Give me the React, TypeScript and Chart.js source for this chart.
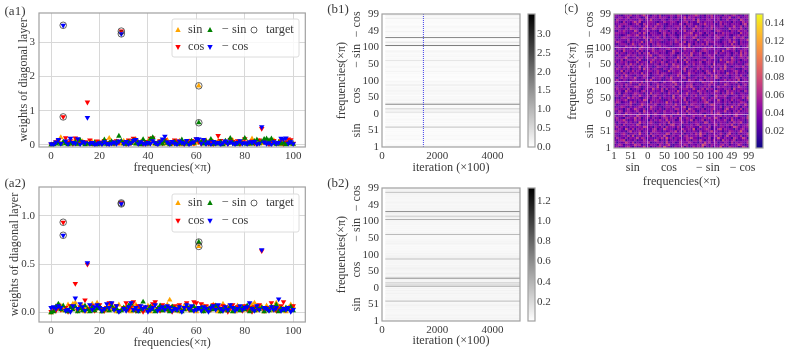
import React, { useEffect, useRef } from "react";
import { Chart, registerables } from "chart.js";

Chart.register(...registerables);

const FONT = "'Liberation Serif', serif";
const TEXT = "#3a3a3a";
const SPINE = "#a0a0a0";
const GRID = "#d8d8d8";

const C_SIN = "#ffa500";
const C_COS = "#ff0000";
const C_NSIN = "#008000";
const C_NCOS = "#0000ff";

// weights at frequency index 0..100
const a1Sin = [
  0, .02, .05, .08, .22, .06, .12, .03, .08, .04,
  .15, .02, .07, .1, .03, .05, .02, .09, .01, .06,
  .04, .03, .08, .05, .2, .02, .06, .1, .04, .03,
  .12, .07, .02, .09, .05, .16, .03, .08, .01, .06,
  .11, .04, .13, .02, .07, .05, .1, .03, .14, .06,
  .02, .08, .04, .12, .01, .07, .03, .1, .05, .02,
  .06, 1.73, .09, .04, .13, .06, .02, .08, .03, .11,
  .05, .01, .07, .04, .09, .14, .02, .06, .03, .1,
  .05, .08, .02, .18, .07, .03, .12, .04, .06, .09,
  .02, .05, .13, .03, .08, .01, .06, .1, .04, .07,
  .02,
];
const a1Cos = [
  .02, .04, .09, .13, .05, .82, .21, .07, .12, .03,
  .2, .16, .06, .1, .09, 1.25, .14, .04, .02, .11,
  .05, .08, .13, .03, .06, .1, .04, .12, .07, 3.33,
  .09, .02, .14, .06, .19, .11, .04, .08, .03, .1,
  .05, .19, .2, .07, .02, .12, .05, .15, .09, .03,
  .06, .14, .11, .04, .08, .02, .1, .06, .13, .05,
  .17, .09, .03, .12, .07, .04, .11, .02, .08, .27,
  .13, .05, .09, .03, .16, .1, .06, .12, .02, .08,
  .18, .04, .07, .11, .05, .03, .14, .48, .1, .06,
  .02, .09, .13, .04, .07, .12, .03, .08, .17, .15,
  .05,
];
const a1NegSin = [
  0, .01, .03, .06, .02, .09, .04, .01, .05, .03,
  .08, .02, .14, .06, .01, .04, .03, .02, .07, .01,
  .05, .03, .15, .02, .06, .1, .03, .08, .26, .12,
  .04, .02, .09, .05, .13, .03, .07, .01, .16, .06,
  .03, .17, .22, .04, .02, .08, .03, .11, .05, .01,
  .06, .09, .02, .04, .15, .03, .07, .02, .12, .05,
  .14, .65, .08, .03, .1, .04, .17, .02, .06, .03,
  .09, .01, .12, .05, .2, .07, .03, .02, .08, .04,
  .2, .02, .06, .03, .11, .15, .04, .09, .17, .18,
  .13, .18, .05, .02, .07, .03, .06, .01, .04, .08,
  .02,
];
const a1NegCos = [
  .03, .01, .08, .16, .04, 3.5, .11, .03, .19, .07,
  .05, .18, .02, .09, .06, .8, .04, .07, .01, .03,
  .06, .02, .09, .04, .01, .05, .08, .03, .11, 3.25,
  .04, .1, .02, .06, .13, .16, .03, .09, .05, .02,
  .07, .04, .12, .06, .01, .09, .17, .25, .08, .03,
  .1, .05, .02, .11, .07, .04, .13, .01, .06, .09,
  .18, .17, .05, .16, .03, .08, .02, .1, .04, .07,
  .01, .06, .11, .03, .09, .05, .02, .07, .12, .04,
  .06, .03, .09, .07, .1, .02, .05, .53, .08, .03,
  .06, .01, .09, .04, .07, .19, .17, .2, .05, .09,
  .03,
];

const a2Sin = [
  0, .02, .06, .04, .07, .02, .03, .08, .05, .09,
  .1, .02, .04, .07, .01, .05, .03, .09, .02, .1,
  .06, .01, .04, .02, .07, .03, .05, .01, .08, .03,
  .04, .06, .02, .01, .05, .08, .03, .06, .02, .04,
  .07, .01, .05, .09, .03, .06, .02, .04, .08, .13,
  .05, .02, .06, .01, .04, .07, .03, .05, .02, .06,
  .01, .685, .04, .07, .02, .05, .03, .08, .06, .01,
  .04, .09, .02, .06, .03, .05, .01, .07, .04, .02,
  .06, .03, .05, .08, .1, .02, .04, .06, .01, .07,
  .03, .05, .02, .1, .06, .03, .04, .01, .05, .08,
  .06,
];
const a2Cos = [
  .01, .04, .02, .06, .03, .935, .05, .01, .07, .04,
  .3, .02, .06, .03, .13, .5, .04, .07, .02, .05,
  .08, .03, .02, .05, .1, .09, .04, .07, .02, 1.135,
  .05, .1, .03, .06, .11, .02, .07, .04, .01, .05,
  .03, .06, .09, .11, .04, .02, .08, .05, .03, .06,
  .01, .07, .04, .08, .02, .05, .1, .03, .06, .11,
  .1, .05, .09, .02, .07, .04, .03, .08, .05, .06,
  .02, .07, .04, .01, .05, .08, .03, .06, .04, .02,
  .07, .03, .05, .01, .06, .04, .08, .64, .02, .05,
  .03, .1, .06, .02, .04, .07, .11, .03, .05, .02,
  .07,
];
const a2NegSin = [
  0, .01, .06, .09, .03, .07, .02, .01, .05, .03,
  .06, .01, .04, .02, .07, .03, .01, .05, .02, .04,
  .06, .01, .03, .05, .02, .07, .03, .04, .01, .02,
  .05, .03, .07, .09, .02, .04, .01, .03, .11, .05,
  .02, .06, .03, .01, .04, .07, .02, .05, .03, .01,
  .06, .04, .02, .05, .01, .03, .07, .04, .02, .06,
  .03, .73, .05, .01, .04, .02, .06, .03, .07, .04,
  .01, .03, .05, .02, .06, .01, .04, .03, .02, .05,
  .03, .07, .01, .04, .02, .06, .03, .05, .01, .04,
  .02, .06, .03, .08, .01, .04, .02, .05, .03, .06,
  .02,
];
const a2NegCos = [
  .05, .06, .04, .07, .05, .8, .02, .03, .01, .07,
  .15, .04, .09, .06, .02, .515, .08, .03, .06, .08,
  .05, .02, .04, .09, .05, .1, .03, .07, .01, 1.125,
  .04, .02, .06, .1, .03, .05, .02, .07, .04, .06,
  .01, .03, .05, .08, .02, .04, .06, .03, .07, .05,
  .02, .04, .03, .06, .01, .05, .08, .04, .07, .02,
  .03, .05, .02, .06, .04, .01, .05, .07, .03, .08,
  .04, .02, .06, .03, .08, .05, .02, .04, .07, .03,
  .05, .06, .1, .04, .02, .07, .03, .65, .05, .04,
  .02, .06, .03, .05, .14, .02, .04, .03, .05, .01,
  .03,
];

const a1TargetFreq = [5, 5, 29, 29, 61, 61];
const a1TargetVal = [.82, 3.5, 3.33, 3.25, 1.73, .65];
const a2TargetFreq = [5, 5, 29, 29, 61, 61];
const a2TargetVal = [.935, .8, 1.135, 1.125, .685, .73];

const aXTicks = [0, 20, 40, 60, 80, 100];
const a1YTicks = [0, 1, 2, 3];
const a2YTicks = [0, 0.5, 1];

// row/column index of tick on the 402 concatenated frequencies
const bandPositions = [0, 50, 100, 150, 200, 250, 300, 350, 400];
const bandLabels = ["1", "51", "0", "50", "100", "50", "100", "49", "99"];
const iterationTicks = [0, 2000, 4000];
const b1BarTicks = [0, 0.5, 1, 1.5, 2, 2.5, 3];
const b2BarTicks = [0.2, 0.4, 0.6, 0.8, 1, 1.2];
const cBarTicks = [0.02, 0.04, 0.06, 0.08, 0.1, 0.12, 0.14];
const b1SnapshotIteration = 1500;

const plasmaStops = ["#0d0887", "#41049d", "#6a00a8", "#8f0da4", "#b12a90", "#cc4778", "#e16462", "#f2844b", "#fca636", "#fcce25", "#f0f921"];

// digit d means a correlation of about d*0.011 + 0.006
const correlationRows = [
  "342324531423362413245274312433514225343613241437232543312642",
  "235413323645132243315324621334254133242753143324524132364213",
  "413236425132343512243416324125333542314263523413243152434325",
  "324561332413253243641325133424325314426313425231634245132334",
  "253324143362541332243527341432235463312342513373242315423641",
  "431342526134233415324263134235145233426312433524136243325124",
  "322453133427324152343326514332413242537341324235314623142335",
  "543231462335134225433132343624152324315233463423132543247331",
  "234316325143423324513264332142533427132345313256243331424523",
  "352423143324365231432415334253124343216342513324423136532434",
  "423152334264132343325241356234133242451332423514334362142335",
  "314335242317342453123342614333524123432265134324331425346213",
  "243463132534233142435326334125324361423513243243352163243314",
  "352214433625134324231345243416235334122443534631324252313426",
  "423351243264323513432463251332442135334272134335242314633215",
  "134226343315243423532143324362341533424213352463132423534322",
  "325413432352163324143253343142426335213443251343362314252334",
  "442313523643241353324214332552341643232413345323146233425134",
  "233542142335413264323134425332461323543142234325134372431432",
  "412334352123643433521324342633124254333142465323141334253263",
  "354123263413432152343327341324235134423356213343242413235431",
  "243345132324265134343212433534162342331452433263143252343124",
  "131432635342134324325133426243351234322643143523341244323526",
  "342253314426323414533242316235334142523343212634353123423434",
  "425134223543314262343132532441336234315243243331425363124322",
  "334216342331452334233521434263133423254341323642315343242153",
  "253342513243134326342515233413344226313525342133243416234332",
  "342414233553123443261342335124325363213342412353432314264331",
  "133425342216343413253423342631324451332243534213264323141352",
  "424331263342514323431252336423413343221543362314324243513423",
  "352243134423315362234123453324132634225314343213352434261343",
  "213534243621343125334214362332451323413253342641323133542432",
  "341426332143254312334523143263432512334342152634243133425214",
  "423253143432624313352443213345123634223414533242316342523331",
  "332614325243133442353212634334152432423135326343412234532413",
  "253342413325163423432143253342361343251433224315362343121343",
  "324143524236134331254323134463245213343423152334263213443523",
  "143325263413524332431435226343313425234323416243351342323145",
  "423434132252334163243531342413326234335124434213326453143223",
  "332513443426212345334143233524163423133452432316343254231343",
  "243346123253414332523441332263415324433213354213243263134425",
  "314223534413323462135433242143253361324243534132234314236342",
  "352431342325143623442331345212434263335124233514324313426253",
  "423163334252413235334341226343143325213454232431633234125342",
  "134352242316433435213324533241263334221453434232316435132343",
  "342225343413632413345243212334352614333242351243142336341325",
  "213443136325234314254332341335422631433525123433243262314334",
  "354321424233614353243123342542361332413235344321342536314223",
  "423332514342225163334423132534143342162353432431233524214336",
  "231454323314263432353142234314352236413324323453134226334512",
  "332123543462341324334251343213254342633131432534424213352343",
  "443342134325263143321353424132234462335314243132534342216334",
  "214353232641334423215343134324262335142343321454323143253342",
  "343224154331263235424313433251342136343242351433221634325313",
  "425313343224136342533412323443251432633134253324413236235143",
  "233444213352153433264321342325314342214363343125243243331462",
  "342152324636123443213253344312345132263243341425332314232534",
  "153334243225414362332431342341253335162324433241325234316423",
  "324423513343126234325343142143362534231324253341433621352334",
  "432134352242463313425123343254231334642314352323143245323143",
];

type Box = { left: number; top: number; right: number; bottom: number };

const tickFont = { family: FONT, size: 11 };
const titleFont = { family: FONT, size: 12.2 };

function hexToRgb(h: string): number[] {
  return [1, 3, 5].map((i) => parseInt(h.slice(i, i + 2), 16));
}
function plasma(t: number): string {
  const c = Math.max(0, Math.min(1, t)) * (plasmaStops.length - 1);
  const i = Math.min(Math.floor(c), plasmaStops.length - 2);
  const a = hexToRgb(plasmaStops[i]);
  const b = hexToRgb(plasmaStops[i + 1]);
  const m = a.map((v, k) => Math.round(v + (b[k] - v) * (c - i)));
  return `rgb(${m[0]},${m[1]},${m[2]})`;
}
function grayR(t: number): string {
  const v = Math.round(255 * (1 - Math.max(0, Math.min(1, t))));
  return `rgb(${v},${v},${v})`;
}

const setTicks = (values: number[]) => (scale: any) => {
  scale.ticks = values.map((value) => ({ value }));
};

const framePlugin = {
  id: "frame",
  afterDraw(chart: any) {
    const { ctx, chartArea: c } = chart;
    ctx.save();
    ctx.strokeStyle = SPINE;
    ctx.lineWidth = 1.2;
    ctx.strokeRect(c.left, c.top, c.right - c.left, c.bottom - c.top);
    ctx.restore();
  },
};

const captionPlugin = {
  id: "caption",
  afterDraw(chart: any, _a: any, o: any) {
    const { ctx, scales } = chart;
    ctx.save();
    ctx.fillStyle = TEXT;
    ctx.textAlign = "center";
    ctx.textBaseline = "middle";
    if (o.panel) {
      ctx.font = `13px ${FONT}`;
      ctx.fillText(o.panel.text, o.panel.x, o.panel.y);
    }
    ctx.font = `12px ${FONT}`;
    (o.yGroups || []).forEach((g: any) => {
      ctx.save();
      ctx.translate(o.yGroupX, scales.y.getPixelForValue(g.at));
      ctx.rotate(-Math.PI / 2);
      ctx.fillText(g.text, 0, 0);
      ctx.restore();
    });
    (o.xGroups || []).forEach((g: any) => {
      ctx.fillText(g.text, scales.x.getPixelForValue(g.at), o.xGroupY);
    });
    ctx.restore();
  },
};

const pointLegendPlugin = {
  id: "pointLegend",
  afterDatasetsDraw(chart: any, _a: any, o: any) {
    if (!o.box) return;
    const { ctx } = chart;
    const b = o.box;
    ctx.save();
    ctx.fillStyle = "rgba(255,255,255,0.82)";
    ctx.strokeStyle = "#dcdcdc";
    ctx.lineWidth = 1;
    ctx.beginPath();
    ctx.roundRect(b.x, b.y, b.w, b.h, 2);
    ctx.fill();
    ctx.stroke();
    o.items.forEach((it: any) => {
      const mx = it.mx;
      const my = it.my;
      ctx.save();
      ctx.translate(mx, my);
      if (it.kind === "circle") {
        ctx.beginPath();
        ctx.arc(0, 0, 3, 0, Math.PI * 2);
        ctx.strokeStyle = "#222";
        ctx.lineWidth = 0.7;
        ctx.stroke();
      } else {
        const s = it.kind === "down" ? -1 : 1;
        ctx.beginPath();
        ctx.moveTo(0, -3 * s);
        ctx.lineTo(2.7, 1.9 * s);
        ctx.lineTo(-2.7, 1.9 * s);
        ctx.closePath();
        ctx.fillStyle = it.color;
        ctx.fill();
      }
      ctx.restore();
      ctx.fillStyle = TEXT;
      ctx.font = `12.3px ${FONT}`;
      ctx.textAlign = "left";
      ctx.textBaseline = "middle";
      ctx.fillText(it.text, it.tx, my);
    });
    ctx.restore();
  },
};

const gradientBarPlugin = {
  id: "gradientBar",
  beforeDatasetsDraw(chart: any, _a: any, o: any) {
    if (!o.colors) return;
    const { ctx, chartArea: c } = chart;
    const g = ctx.createLinearGradient(0, c.bottom, 0, c.top);
    o.colors.forEach((col: string, i: number) => g.addColorStop(i / (o.colors.length - 1), col));
    ctx.save();
    ctx.fillStyle = g;
    ctx.fillRect(c.left, c.top, c.right - c.left, c.bottom - c.top);
    ctx.restore();
  },
};

function basePlugins(extra: any = {}) {
  return {
    legend: { display: false },
    tooltip: { enabled: false },
    title: { display: false },
    ...extra,
  };
}

function place(canvas: HTMLCanvasElement, c: Box) {
  canvas.style.position = "absolute";
  canvas.style.left = `${c.left}px`;
  canvas.style.top = `${c.top}px`;
  canvas.width = c.right - c.left;
  canvas.height = c.bottom - c.top;
  canvas.style.width = `${c.right - c.left}px`;
  canvas.style.height = `${c.bottom - c.top}px`;
}

function axisX(c: Box, p: Box, o: any) {
  const lh = 12.2 * 1.2;
  return {
    type: "linear",
    min: o.min,
    max: o.max,
    afterBuildTicks: setTicks(o.ticks),
    afterFit: (s: any) => {
      s.height = c.bottom - p.bottom;
    },
    grid: o.grid,
    border: { display: false },
    ticks: {
      font: tickFont,
      color: TEXT,
      padding: o.tickPad ?? 4,
      maxRotation: 0,
      autoSkip: false,
      callback: o.labels,
    },
    title: {
      display: true,
      text: o.title,
      font: titleFont,
      color: TEXT,
      padding: { top: 0, bottom: c.bottom - o.titleY - lh / 2 },
    },
  };
}

function axisY(c: Box, p: Box, o: any) {
  const lh = 12.2 * 1.2;
  return {
    type: "linear",
    min: o.min,
    max: o.max,
    afterBuildTicks: setTicks(o.ticks),
    afterFit: (s: any) => {
      s.width = p.left - c.left;
    },
    grid: o.grid,
    border: { display: false },
    ticks: {
      font: tickFont,
      color: TEXT,
      padding: o.tickPad ?? 3,
      autoSkip: false,
      callback: o.labels,
    },
    title: {
      display: true,
      text: o.title,
      font: titleFont,
      color: TEXT,
      padding: { top: o.titleX - c.left - lh / 2, bottom: 0 },
    },
  };
}

function padFor(c: Box, p: Box) {
  return { left: 0, top: p.top - c.top, right: c.right - p.right, bottom: 0 };
}

function points(values: number[]) {
  return values.map((y, x) => ({ x, y }));
}

function scatterChart(canvas: HTMLCanvasElement, c: Box, p: Box, d: any) {
  place(canvas, c);
  const m = (label: string, values: number[], color: string, down: boolean, order: number) => ({
    label,
    data: points(values),
    backgroundColor: color,
    borderWidth: 0,
    pointBorderWidth: 0,
    pointRadius: 3.2,
    pointStyle: "triangle",
    pointRotation: down ? 180 : 0,
    order,
  });
  const grid = { color: GRID, lineWidth: 1, drawTicks: false };
  const lx = 188;
  const row1 = d.legendRows[0];
  const row2 = d.legendRows[1];
  return new Chart(canvas, {
    type: "scatter",
    data: {
      datasets: [
        m("sin", d.sin, C_SIN, false, 4),
        m("cos", d.cos, C_COS, true, 3),
        m("− sin", d.nsin, C_NSIN, false, 2),
        m("− cos", d.ncos, C_NCOS, true, 1),
        {
          label: "target",
          data: d.targetFreq.map((x: number, i: number) => ({ x, y: d.targetVal[i] })),
          pointStyle: "circle",
          pointRadius: 3.3,
          backgroundColor: "rgba(0,0,0,0)",
          borderColor: "#222",
          pointBorderWidth: 0.7,
          order: 0,
        },
      ],
    },
    options: {
      animation: false,
      responsive: false,
      layout: { padding: padFor(c, p) },
      scales: {
        x: axisX(c, p, { min: -5, max: 105, ticks: aXTicks, grid, title: "frequencies(×π)", titleY: d.xTitleY, tickPad: 3 }),
        y: axisY(c, p, { min: d.yMin, max: d.yMax, ticks: d.yTicks, grid, labels: d.yLabels, title: "weights of diagonal layer", titleX: d.yTitleX, tickPad: 4 }),
      },
      plugins: basePlugins({
        caption: { panel: d.panel },
        pointLegend: {
          box: { x: 172, y: d.legendBoxY, w: 127, h: 38 },
          items: [
            { kind: "up", color: C_SIN, mx: 178, my: row1, tx: lx, text: "sin" },
            { kind: "down", color: C_COS, mx: 178, my: row2, tx: lx, text: "cos" },
            { kind: "up", color: C_NSIN, mx: 210, my: row1, tx: 222, text: "− sin" },
            { kind: "down", color: C_NCOS, mx: 210, my: row2, tx: 222, text: "− cos" },
            { kind: "circle", mx: 254, my: row1, tx: 266, text: "target" },
          ],
        },
      }),
    },
    plugins: [framePlugin, captionPlugin, pointLegendPlugin],
  } as any);
}

const yBandGroups = [
  { text: "sin", at: 50 },
  { text: "cos", at: 155 },
  { text: "− sin", at: 275 },
  { text: "− cos", at: 370 },
];
const xBandGroups = [
  { text: "sin", at: 56 },
  { text: "cos", at: 163 },
  { text: "− sin", at: 279 },
  { text: "− cos", at: 382 },
];

const bandLabelCb = (_v: any, i: number) => bandLabels[i];

function rowsChart(canvas: HTMLCanvasElement, c: Box, p: Box, d: any) {
  place(canvas, c);
  // the 402 rows: sin 1..100, cos 0..100, -sin 1..100, -cos 0..100
  const rows = [...d.sin.slice(1), ...d.cos, ...d.nsin.slice(1), ...d.ncos];
  const datasets: any[] = rows.map((v: number, i: number) => ({
    data: [{ x: d.rowStart, y: i }, { x: 5000, y: i }],
    borderColor: grayR(v / d.vMax),
    borderWidth: 0.5,
    pointRadius: 0,
    showLine: true,
    order: -v,
  }));
  if (d.snapshot !== undefined) {
    datasets.push({
      data: [{ x: d.snapshot, y: 0 }, { x: d.snapshot, y: 401 }],
      borderColor: "rgba(0,0,230,0.75)",
      borderWidth: 1,
      borderDash: [1, 1],
      pointRadius: 0,
      showLine: true,
      order: -100,
    });
  }
  const grid = { display: false, drawTicks: false };
  return new Chart(canvas, {
    type: "scatter",
    data: { datasets },
    options: {
      animation: false,
      responsive: false,
      layout: { padding: padFor(c, p) },
      scales: {
        x: axisX(c, p, { min: 0, max: 5000, ticks: iterationTicks, grid, title: "iteration (×100)", titleY: d.xTitleY, tickPad: 3 }),
        y: axisY(c, p, { min: 0, max: 401, ticks: bandPositions, grid, labels: bandLabelCb, title: "frequencies(×π)", titleX: 342, tickPad: 3 }),
      },
      plugins: basePlugins({
        caption: { panel: d.panel, yGroups: yBandGroups, yGroupX: 357 - c.left },
      }),
    },
    plugins: [framePlugin, captionPlugin],
  } as any);
}

function colorBar(canvas: HTMLCanvasElement, c: Box, p: Box, d: any) {
  place(canvas, c);
  return new Chart(canvas, {
    type: "scatter",
    data: { datasets: [{ data: [] }] },
    options: {
      animation: false,
      responsive: false,
      layout: { padding: { left: p.left - c.left, top: p.top - c.top, bottom: c.bottom - p.bottom, right: 0 } },
      scales: {
        x: { display: false },
        y: {
          type: "linear",
          position: "right",
          min: d.min,
          max: d.max,
          afterBuildTicks: setTicks(d.ticks),
          afterFit: (s: any) => {
            s.width = c.right - p.right;
          },
          grid: { display: false, drawTicks: false },
          border: { display: false },
          ticks: { font: tickFont, color: TEXT, padding: 2, autoSkip: false, callback: d.labels },
        },
      },
      plugins: basePlugins({ gradientBar: { colors: d.colors } }),
    },
    plugins: [gradientBarPlugin, framePlugin],
  } as any);
}

function corrChart(canvas: HTMLCanvasElement, c: Box, p: Box) {
  place(canvas, c);
  const n = correlationRows.length;
  const cells: any[] = [];
  const colors: string[] = [];
  correlationRows.forEach((row, r) => {
    row.split("").forEach((ch, k) => {
      const v = parseInt(ch, 16) * 0.011 + 0.006;
      cells.push({ x: ((k + 0.5) / row.length) * 401, y: ((r + 0.5) / n) * 401 });
      colors.push(plasma(v / 0.15));
    });
  });
  const side = ((p.right - p.left) / correlationRows[0].length) * 1.08;
  const seams = (ctx: any) =>
    [100, 200, 300].includes(ctx.tick?.value) ? "rgba(255,225,255,0.5)" : "rgba(0,0,0,0)";
  const grid = { color: seams, lineWidth: 1, drawTicks: false, z: 1 };
  return new Chart(canvas, {
    type: "scatter",
    data: {
      datasets: [
        {
          data: cells,
          pointStyle: "rect",
          pointRadius: side / Math.SQRT2,
          backgroundColor: colors,
          pointBorderWidth: 0,
          borderWidth: 0,
        },
      ],
    },
    options: {
      animation: false,
      responsive: false,
      layout: { padding: padFor(c, p) },
      scales: {
        x: axisX(c, p, { min: 0, max: 401, ticks: bandPositions, grid, labels: bandLabelCb, title: "frequencies(×π)", titleY: 182, tickPad: 2 }),
        y: axisY(c, p, { min: 0, max: 401, ticks: bandPositions, grid, labels: bandLabelCb, title: "frequencies(×π)", titleX: 573, tickPad: 3 }),
      },
      plugins: basePlugins({
        caption: {
          panel: { text: "(c)", x: 571 - c.left, y: 9 - c.top },
          yGroups: yBandGroups,
          yGroupX: 590 - c.left,
          xGroups: xBandGroups,
          xGroupY: 168 - c.top,
        },
      }),
    },
    plugins: [framePlugin, captionPlugin],
  } as any);
}

export default function App() {
  const refs = useRef<(HTMLCanvasElement | null)[]>([]);
  useEffect(() => {
    const r = refs.current as HTMLCanvasElement[];
    const grays = [grayR(0), grayR(0.25), grayR(0.5), grayR(0.75), grayR(1)];
    const plasmaBar = plasmaStops;
    const fmt1 = (v: number) => v.toFixed(1);
    const fmt2 = (v: number) => v.toFixed(2);
    const charts = [
      scatterChart(r[0], { left: 0, top: 0, right: 310, bottom: 175 }, { left: 39, top: 13, right: 306, bottom: 147 }, {
        sin: a1Sin, cos: a1Cos, nsin: a1NegSin, ncos: a1NegCos,
        targetFreq: a1TargetFreq, targetVal: a1TargetVal,
        yMin: -0.06, yMax: 3.86, yTicks: a1YTicks, yLabels: (v: number) => `${v}`,
        xTitleY: 168, yTitleX: 24,
        legendBoxY: 19, legendRows: [30, 47],
        panel: { text: "(a1)", x: 15, y: 12 },
      }),
      scatterChart(r[1], { left: 0, top: 175, right: 310, bottom: 352 }, { left: 39, top: 187, right: 306, bottom: 322 }, {
        sin: a2Sin, cos: a2Cos, nsin: a2NegSin, ncos: a2NegCos,
        targetFreq: a2TargetFreq, targetVal: a2TargetVal,
        yMin: -0.098, yMax: 1.3, yTicks: a2YTicks, yLabels: fmt1,
        xTitleY: 343, yTitleX: 15,
        legendBoxY: 19, legendRows: [28, 45.7],
        panel: { text: "(a2)", x: 15, y: 9 },
      }),
      rowsChart(r[2], { left: 325, top: 0, right: 526, bottom: 175 }, { left: 382, top: 14, right: 520, bottom: 147 }, {
        sin: a1Sin, cos: a1Cos, nsin: a1NegSin, ncos: a1NegCos,
        vMax: 3.53, rowStart: 120, snapshot: b1SnapshotIteration, xTitleY: 168,
        panel: { text: "(b1)", x: 13, y: 10 },
      }),
      rowsChart(r[3], { left: 325, top: 175, right: 526, bottom: 352 }, { left: 382, top: 188, right: 520, bottom: 321 }, {
        sin: a2Sin, cos: a2Cos, nsin: a2NegSin, ncos: a2NegCos,
        vMax: 1.325, rowStart: 120, xTitleY: 341,
        panel: { text: "(b2)", x: 13, y: 9 },
      }),
      colorBar(r[4], { left: 524, top: 0, right: 565, bottom: 175 }, { left: 528, top: 14, right: 535, bottom: 147 }, {
        min: 0, max: 3.53, ticks: b1BarTicks, labels: fmt1, colors: grays,
      }),
      colorBar(r[5], { left: 524, top: 175, right: 565, bottom: 352 }, { left: 528, top: 188, right: 535, bottom: 321 }, {
        min: 0.012, max: 1.325, ticks: b2BarTicks, labels: fmt1, colors: grays,
      }),
      corrChart(r[6], { left: 565, top: 0, right: 757, bottom: 195 }, { left: 614, top: 14, right: 749, bottom: 148 }),
      colorBar(r[7], { left: 752, top: 0, right: 789, bottom: 195 }, { left: 756, top: 14, right: 763, bottom: 148 }, {
        min: 0.0007, max: 0.15, ticks: cBarTicks, labels: fmt2, colors: plasmaBar,
      }),
    ];
    return () => charts.forEach((c) => c.destroy());
  }, []);
  return (
    <div style={{ position: "absolute", left: 0, top: 0, width: 789, height: 352, background: "#fff", overflow: "hidden" }}>
      {[0, 1, 2, 3, 4, 5, 6, 7].map((i) => (
        <canvas key={i} ref={(el) => { refs.current[i] = el; }} />
      ))}
    </div>
  );
}
